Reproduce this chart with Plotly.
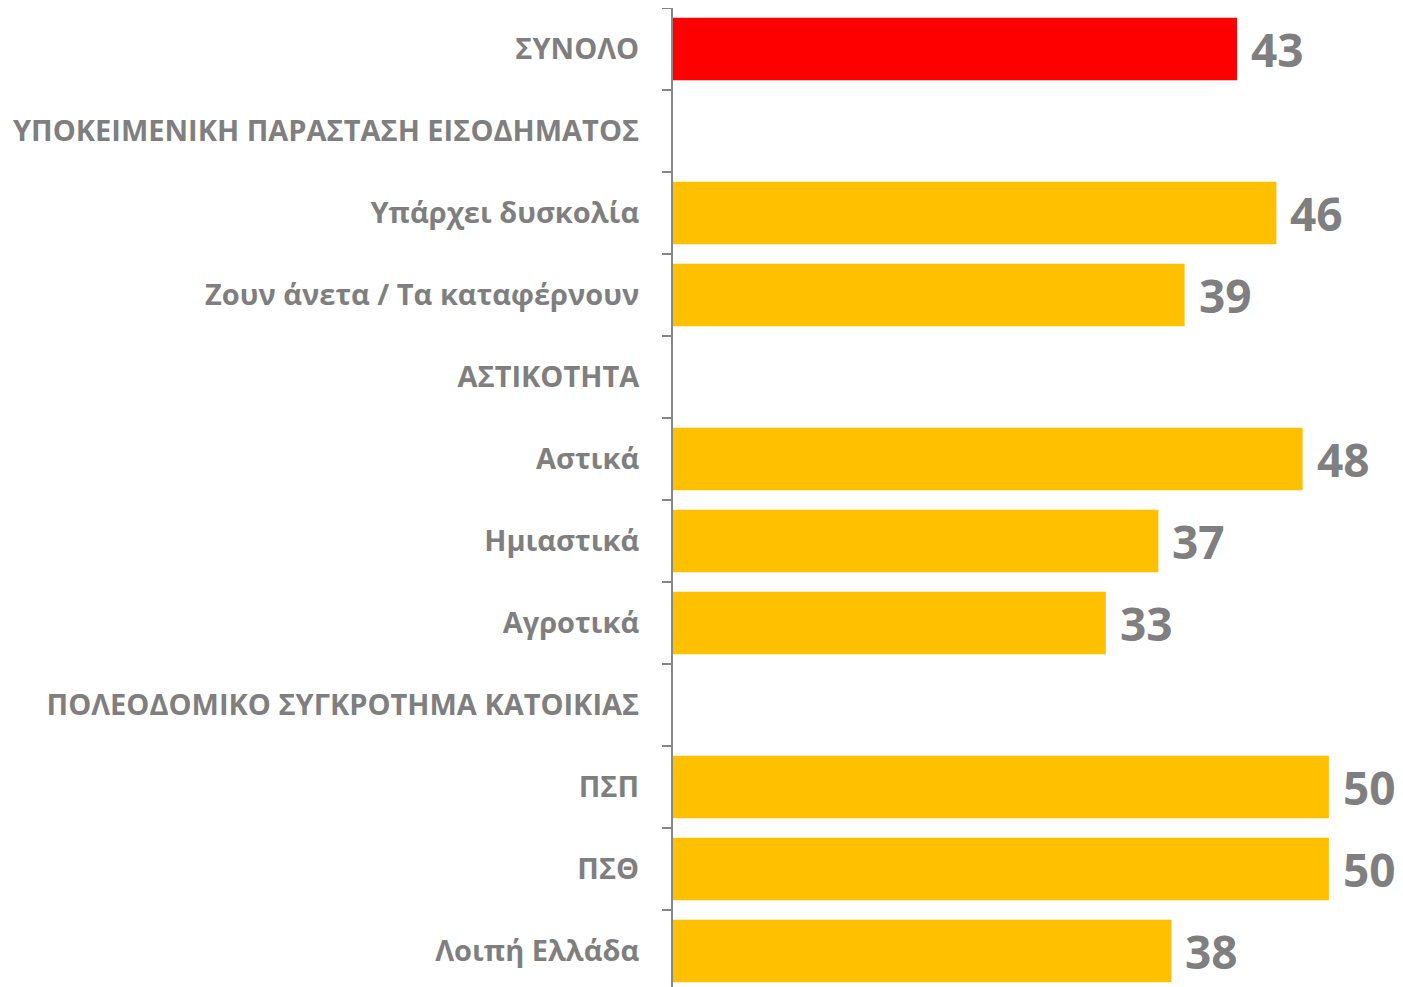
import plotly.graph_objects as go

categories = [
    "ΣΥΝΟΛΟ",
    "ΥΠΟΚΕΙΜΕΝΙΚΗ ΠΑΡΑΣΤΑΣΗ ΕΙΣΟΔΗΜΑΤΟΣ",
    "Υπάρχει δυσκολία",
    "Ζουν άνετα / Τα καταφέρνουν",
    "ΑΣΤΙΚΟΤΗΤΑ",
    "Αστικά",
    "Ημιαστικά",
    "Αγροτικά",
    "ΠΟΛΕΟΔΟΜΙΚΟ ΣΥΓΚΡΟΤΗΜΑ ΚΑΤΟΙΚΙΑΣ",
    "ΠΣΠ",
    "ΠΣΘ",
    "Λοιπή Ελλάδα",
]
values = [43, None, 46, 39, None, 48, 37, 33, None, 50, 50, 38]
bar_colors = ["#FF0000"] + ["#FFC000"] * (len(categories) - 1)

GREY = "#7F7F7F"

fig = go.Figure()
fig.add_trace(go.Bar(
    y=categories,
    x=values,
    orientation="h",
    marker=dict(color=bar_colors, line=dict(width=0)),
    hoverinfo="skip",
))

# value labels to the right of each bar
for cat, val in zip(categories, values):
    if val is None:
        continue
    fig.add_annotation(
        x=val, y=cat, text=f"<b>{val}</b>",
        xanchor="left", yanchor="middle", xshift=12,
        showarrow=False,
        font=dict(family="Open Sans", size=46, color=GREY),
    )

# page body adds an 8px margin, so the figure is sized to sit inside the window
fig.update_layout(
    width=1395, height=984,
    margin=dict(l=665, r=0, t=0, b=0),
    plot_bgcolor="white", paper_bgcolor="white",
    bargap=0.24,
    showlegend=False,
    font=dict(family="Open Sans"),
)
fig.update_xaxes(range=[0, 55.65], visible=False, showgrid=False, zeroline=False)
fig.update_yaxes(
    autorange="reversed",
    showline=True, linecolor="#868686", linewidth=2,
    ticks="outside", tickson="boundaries", ticklen=9, tickwidth=2, tickcolor="#868686",
    ticklabelstandoff=26,
    tickfont=dict(family="Open Sans", size=29, color=GREY, weight="bold"),
    showgrid=False,
)

fig.write_html("out.html")
